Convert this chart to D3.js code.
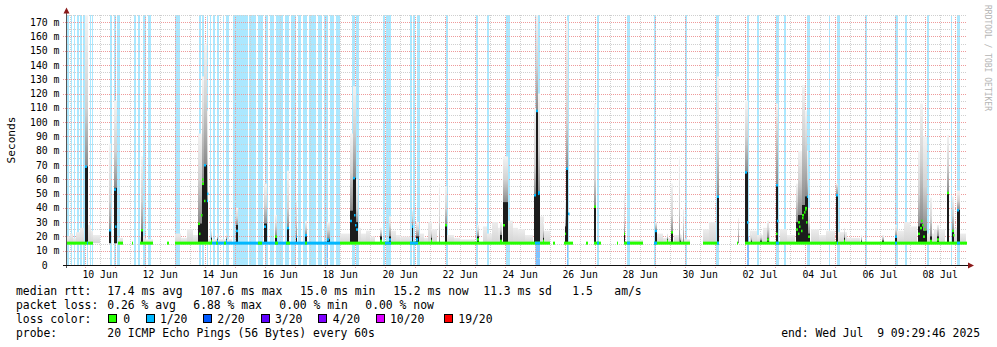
<!DOCTYPE html>
<html><head><meta charset="utf-8">
<script src="https://cdn.jsdelivr.net/npm/d3@7"></script>
<style>
html,body{margin:0;padding:0;background:#fff;}
svg{display:block;font-family:"DejaVu Sans Mono",monospace;}
</style></head><body>
<svg id="chart" width="997" height="347"></svg>
<script>
// ---------------- DATA ----------------
// Times are "June day numbers": 10.5 = 10 Jun 12:00 UTC, 32.0 = 02 Jul 00:00 UTC
const graphStart = Date.UTC(2025, 5, 9, 9, 29, 46);
const graphEnd   = Date.UTC(2025, 6, 9, 9, 29, 46);

const xTickDays   = [10, 12, 14, 16, 18, 20, 22, 24, 26, 28, 30, 32, 34, 36, 38];
const xTickLabels = ["10 Jun","12 Jun","14 Jun","16 Jun","18 Jun","20 Jun","22 Jun","24 Jun","26 Jun","28 Jun","30 Jun","02 Jul","04 Jul","06 Jul","08 Jul"];
const yTickValues = [0,10,20,30,40,50,60,70,80,90,100,110,120,130,140,150,160,170];
const yTickLabels = ["0","10 m","20 m","30 m","40 m","50 m","60 m","70 m","80 m","90 m","100 m","110 m","120 m","130 m","140 m","150 m","160 m","170 m"];

// loss background bars (1/20 loss): [from, to]
const lossBars = [
  [9.4,9.467],[9.517,9.567],[9.617,9.667],[9.733,9.783],[9.833,9.883],[9.933,9.983],
  [10.05,10.1],[10.15,10.2],[10.233,10.267],
  [10.817,10.883],[10.95,11.033],[11.067,11.15],
  [11.633,11.7],[11.75,11.833],[11.917,12.017],[12.083,12.2],
  [13.0,13.167],
  [13.8,13.857],[13.89,13.967],[14.057,14.1],[14.157,14.2],[14.277,14.343],[14.39,14.467],[14.583,14.643],[14.7,14.783],
  [14.933,15.417],[15.467,15.7],[15.75,15.933],[16.0,16.1],[16.15,16.3],[16.367,16.6],[16.667,16.8],
  [16.867,17.033],[17.1,17.2],[17.267,17.4],[17.467,17.7],[17.767,17.9],[17.967,18.1],[18.167,18.3],[18.367,18.5],
  [18.9,18.99],[19.043,19.123],
  [19.943,20.0],[20.033,20.2],[20.843,20.9],[20.923,21.0],[21.057,21.177],
  [22.033,22.1],[23.033,23.11],[23.41,23.457],[24.033,24.177],
  [25.0,25.157],[26.057,26.123],[27.057,27.133],[28.057,28.177],[28.977,29.033],
  [30.0,30.077],[31.023,31.143],[32.077,32.143],[32.41,32.457],[33.033,33.133],[33.3,33.357],
  [34.057,34.167],[34.81,34.843],[35.057,35.167],[36.0,36.057],[37.0,37.11],[37.333,37.39],
  [38.057,38.133],[38.867,38.91],[39.067,39.167]
];
// 2/20 loss patches (lower part): [from, to]
const loss2Bars = [[18.05,18.1],[25.03,25.157],[26.057,26.11],[32.077,32.12]];

// median rtt baseline segments: [from, to, lossLevel]
const medianSegments = [
  [9.4,10.277,0],[10.05,10.1,1],
  [11.11,11.277,0],[11.577,11.61,0],[11.833,12.277,0],[12.743,12.79,0],
  [13.0,14.233,0],[14.233,14.933,1],[14.367,14.433,0],[14.633,14.7,0],
  [14.933,18.5,1],[15.767,15.9,0],[16.333,16.433,0],[16.7,16.833,0],[17.333,17.4,0],
  [18.5,25.5,0],[20.0,20.2,1],[20.833,21.1,1],[25.0,25.167,1],
  [25.6,25.667,0],[25.967,26.267,0],[26.7,26.767,0],
  [26.967,27.2,0],[27.067,27.133,1],[27.733,27.767,0],
  [27.967,28.6,0],[28.057,28.167,1],
  [28.967,30.167,0],[28.977,29.057,1],
  [30.6,31.133,0],[31.057,31.143,1],[31.723,31.777,0],
  [32.0,39.396,0],[33.033,33.133,1],[35.057,35.1,1],[37.0,37.067,1],[39.067,39.167,1]
];

// light smoke near the baseline: [from, to, top ms]
const haze = [
  [9.4,9.5,20],[9.5,9.6,22],[9.6,9.7,19],[9.7,9.833,23],[9.833,9.967,26],[10.1,10.2,28],[10.2,10.267,24],[10.267,10.5,21],
  [11.1,11.267,19],[11.833,12.0,20],[12.0,12.267,18],
  [13.0,13.2,22],[13.2,13.4,19],[13.4,13.6,25],[13.6,13.767,21],[14.1,14.9,18],
  [18.5,18.833,22],[19.1,19.2,26],[19.2,19.367,22],[19.367,19.5,24],[19.5,19.667,20],
  [20.2,20.35,24],[20.35,20.5,21],[20.5,20.833,20],
  [21.167,21.3,22],[21.3,21.433,19],[21.433,21.55,30],[21.55,21.733,25],
  [22.067,22.3,21],[22.3,22.5,19],[22.5,23.0,18],
  [23.267,23.4,27],[23.4,23.567,22],[23.567,23.75,30],[23.75,23.9,26],
  [24.1,24.25,31],[24.25,24.433,26],[24.433,24.65,25],[24.65,24.933,21],
  [25.167,25.3,34],[25.3,25.5,24],
  [28.167,28.6,17.5],[29.033,29.25,22],[29.25,29.5,19],[29.633,29.9,21],[29.9,30.167,18],
  [30.6,30.8,25],[30.8,31.033,30],
  [32.167,32.4,24],[32.4,32.6,21],[32.6,32.833,26],
  [33.167,33.4,25],[33.4,33.667,21],
  [34.2,34.45,25],[34.45,34.7,21],[34.7,35.0,24],
  [35.1,35.4,23],[35.4,35.833,19],
  [37.067,37.3,24],[37.3,37.5,30],[37.5,37.733,27],
  [38.067,38.3,22],[38.3,38.667,25],
  [38.9,39.1,26],[39.1,39.367,22]
];

// smoke spikes: [time, width hours, median, dark top, mid top, light top, lossLevel]
const spikes = [
  [10.04,2,69,69,110,175,1],[10.84,1.5,24.5,24.5,45,85,1],[11.017,2,53,54,80,115,1],[11.893,1.5,24.5,24.5,45,76,0],
  [13.833,3.2,29,29,60,92,0],[13.933,1.6,57,57,100,132,0],[14.01,2.1,70,70,115,155,1],[14.083,1.3,45,45,75,108,1],
  [14.223,1,17,19,21,24,0],[14.4,1,17,18,20,22,1],[14.723,1,17,18,20,22,1],
  [15.057,1.6,24,28,33,40,1],[16.023,2.6,27,29,42,57,1],[16.36,1.3,20,20,27,35,0],[16.757,1.6,26,26,40,66,1],
  [17.05,1.3,20,20,30,45,1],[17.36,1.3,21,21,26,31,1],[18.11,2.5,18,18,24,30,1],
  [18.883,2.4,31,38,65,92,1],[18.983,2.4,61,61,95,125,1],[19.067,1.6,25,30,40,60,1],
  [19.86,1.3,17,20,23,26,0],[20.15,1.6,18,20,27,34,1],[20.917,1.3,27,27,33,38,1],[21.083,2,18,20,25,30,1],
  [21.55,1.3,17,19,22,25,0],[21.82,1,16,16,30,57,0],[22.027,1.3,28,28,40,55,0],[23.11,1.5,18,20,24,28,0],
  [23.86,1.3,17,21,25,30,0],[24.017,3.5,28,44,60,76,0],
  [25.007,1.6,49,49,70,110,1],[25.077,1.6,108,108,140,175,1],[25.14,1.4,51,51,80,120,1],[25.28,1.3,17,19,24,30,0],
  [26.0,1.0,22,27,35,45,0],[26.077,1.6,67.6,67.6,100,171,1],[27.01,1.6,41,41,60,113,0],[27.98,1.3,22,22,30,50,0],
  [29.017,1.6,24,24,28,30,1],[29.41,1.2,17,18,20,22,0],[29.567,1.6,23,23,35,57,0],[29.8,1.0,16,16,40,76,0],
  [29.85,1.2,16,17,19,22,0],[29.94,1.0,16,16,28,40,0],
  [31.1,2,48,48,80,132,1],[31.77,1,16,16,25,33,0],
  [32.057,2.6,65,65,90,115,1],[32.2,1,16,17,19,22,0],[32.53,1,16,17,19,22,0],[32.77,1.3,18,19,25,31,0],
  [33.07,1.8,56,56,94,113,1],
  [33.74,1.8,25,30,45,57,0],[33.833,2.7,30,35,60,80,0],[33.943,2.7,35,42,90,126,0],[34.027,1.4,40,48,85,108,0],
  [34.083,1.4,48,48,60,80,1],[34.14,1.4,20,22,30,40,0],
  [35.057,1.6,49,49,55,57,1],[35.31,1.3,17,19,22,26,0],[35.89,1,16,17,19,21,0],[36.6,1.3,16,17,19,21,0],
  [37.03,1.3,20,20,24,28,1],
  [37.81,1.6,22,27,50,80,0],[37.893,2.4,26,29,75,113,0],[38.0,2.7,20,24,55,90,0],
  [38.19,1.3,17,20,32,47,0],[38.433,2,18,20,25,28,0],[38.777,1.6,50.6,50.6,70,91,0],
  [38.927,1.8,24,24,35,48,0],[39.123,2.2,38.5,38.5,45,52,1]
];
// extra coloured median points inside spikes: [time, ms, lossLevel]
const extraDots = [
  [11.01,27,1],[13.81,22,0],[13.87,35,0],[13.9,60,0],[13.97,45,0],[14.05,50,1],
  [18.95,35,1],[19.0,28,1],[25.1,50,1],[26.1,36,1],[32.05,30,1],[33.07,31,1],[33.03,22,0],
  [33.77,22,0],[33.8,27,0],[33.85,24,0],[33.9,33,0],[33.95,37,0],[33.98,39,0],[34.03,30,0],
  [37.85,31,0],[37.9,28,0],[37.95,25,0],[38.93,21,0]
];

const lossColors = ["#26ff00","#00b8ff","#0059ff","#5e00ff","#7e00ff","#dd00ff","#ff0000"];
const lossLabels = ["0","1/20","2/20","3/20","4/20","10/20","19/20"];
const medianLegend = ["median rtt:","17.4 ms avg","107.6 ms max","15.0 ms min","15.2 ms now","11.3 ms sd","1.5","am/s"];
const lossLegend = ["packet loss:","0.26 % avg","6.88 % max","0.00 % min","0.00 % now"];
const probeLegend = ["probe:","20 ICMP Echo Pings (56 Bytes) every 60s"];
const endLabel = "end: Wed Jul  9 09:29:46 2025";
const baselineRtt = 15.3;

// ---------------- DRAW ----------------
const DAY = 86400000, JUN0 = Date.UTC(2025, 4, 31);
const T = d => new Date(JUN0 + d * DAY);
const x = d3.scaleUtc().domain([new Date(graphStart), new Date(graphEnd)]).range([67, 967]);
const y = d3.scaleLinear().domain([0, 175]).range([265, 15]);
const X = d => x(T(d));
const svg = d3.select("#chart");
svg.append("rect").attr("width", 997).attr("height", 347).attr("fill", "#fff");
const defs = svg.append("defs");

// loss background bars
const gBars = svg.append("g");
lossBars.forEach(([a, b]) => {
  const x0 = Math.round(X(a)), x1 = Math.max(x0 + 1, Math.round(X(b)));
  gBars.append("rect").attr("x", x0).attr("y", 15).attr("width", x1 - x0).attr("height", 250)
    .attr("fill", lossColors[1]).attr("fill-opacity", 0.33);
});
loss2Bars.forEach(([a, b]) => {
  const x0 = Math.round(X(a)), x1 = Math.max(x0 + 1, Math.round(X(b)));
  gBars.append("rect").attr("x", x0).attr("y", y(20)).attr("width", x1 - x0).attr("height", y(0) - y(20))
    .attr("fill", lossColors[2]).attr("fill-opacity", 0.25);
});

// grid
const gGrid = svg.append("g").attr("fill", "none").attr("stroke-width", 1).attr("stroke-dasharray", "1,1");
d3.utcHour.every(12).range(new Date(graphStart), new Date(graphEnd)).forEach(t => {
  const major = t.getUTCHours() === 0;
  const px = Math.round(x(t)) + 0.5;
  gGrid.append("line").attr("x1", px).attr("x2", px).attr("y1", 15).attr("y2", major ? 268 : 265)
    .attr("stroke", major ? "#ee9a9a" : "#cfcfcf");
});
d3.range(5, 176, 5).forEach(v => {
  const major = v % 10 === 0;
  const py = Math.round(y(v)) + 0.5;
  gGrid.append("line").attr("x1", major ? 63 : 67).attr("x2", 967).attr("y1", py).attr("y2", py)
    .attr("stroke", major ? "#ee9a9a" : "#cfcfcf");
});

// haze
const hg = defs.append("linearGradient").attr("id", "haze").attr("x1", 0).attr("x2", 0).attr("y1", 0).attr("y2", 1);
hg.append("stop").attr("offset", 0).attr("stop-color", "#ededed");
hg.append("stop").attr("offset", 1).attr("stop-color", "#d4d4d4");
const gSmoke = svg.append("g");
haze.forEach(([a, b, top]) => {
  const x0 = Math.round(X(a)), x1 = Math.max(x0 + 1, Math.round(X(b)));
  gSmoke.append("rect").attr("x", x0).attr("width", x1 - x0).attr("y", y(top)).attr("height", y(baselineRtt) - y(top))
    .attr("fill", "url(#haze)");
});

// spikes
spikes.forEach(([t, w, med, dark, mid, top, lvl], i) => {
  const xc = X(t), pw = Math.max(1, w * 1.25);
  const x0 = Math.round(xc - pw / 2), x1 = Math.max(x0 + 1, Math.round(xc + pw / 2));
  const yb = y(baselineRtt), yt = y(top);
  const span = yb - yt;
  const gr = defs.append("linearGradient").attr("id", "sg" + i).attr("gradientUnits", "userSpaceOnUse")
    .attr("x1", 0).attr("x2", 0).attr("y1", yt).attr("y2", yb);
  gr.append("stop").attr("offset", 0).attr("stop-color", "#f3f3f3");
  gr.append("stop").attr("offset", Math.max(0, (y(mid) - yt) / span)).attr("stop-color", "#d2d2d2");
  gr.append("stop").attr("offset", Math.max(0, (y(dark) - yt) / span)).attr("stop-color", "#8a8a8a");
  gr.append("stop").attr("offset", 1).attr("stop-color", "#555");
  gSmoke.append("rect").attr("x", x0).attr("width", x1 - x0).attr("y", yt).attr("height", span).attr("fill", "url(#sg" + i + ")");
  if (dark > baselineRtt + 1) {
    gSmoke.append("rect").attr("x", x0).attr("width", x1 - x0).attr("y", y(dark)).attr("height", yb - y(dark)).attr("fill", "#1c1c1c");
  }
});

// median line
const gMed = svg.append("g");
medianSegments.forEach(([a, b, lvl]) => {
  const x0 = Math.round(X(a)), x1 = Math.max(x0 + 1, Math.round(X(b)));
  gMed.append("rect").attr("x", x0).attr("width", x1 - x0).attr("y", y(baselineRtt) - 1.5).attr("height", 3)
    .attr("fill", lossColors[lvl]);
});
spikes.forEach(([t, w, med, dark, mid, top, lvl]) => {
  if (med <= baselineRtt + 1) return;
  const xc = X(t), pw = Math.max(1, w * 1.25);
  const x0 = Math.round(xc - pw / 2), x1 = Math.max(x0 + 1, Math.round(xc + pw / 2));
  gMed.append("rect").attr("x", x0).attr("width", Math.min(2, x1 - x0)).attr("y", y(med) - 1).attr("height", 2.5)
    .attr("fill", lossColors[lvl]);
});
extraDots.forEach(([t, v, lvl]) => {
  gMed.append("rect").attr("x", Math.round(X(t))).attr("width", 1.5).attr("y", y(v) - 1).attr("height", 2.5)
    .attr("fill", lossColors[lvl]);
});

// axes
const gAx = svg.append("g");
gAx.append("line").attr("x1", 66.5).attr("x2", 66.5).attr("y1", 268).attr("y2", 12).attr("stroke", "#555");
gAx.append("line").attr("x1", 63).attr("x2", 969).attr("y1", 265.5).attr("y2", 265.5).attr("stroke", "#111");
gAx.append("path").attr("d", "M63.5,13.5 L66.5,7.5 L69.5,13.5 Z").attr("fill", "#8b1a1a");
gAx.append("path").attr("d", "M968,262.5 L974,265.5 L968,268.5 Z").attr("fill", "#8b1a1a");

// axis labels
const gTxt = svg.append("g").attr("fill", "#000");
xTickDays.forEach((d, i) => {
  gTxt.append("text").attr("x", X(d + 0.5)).attr("y", 278).attr("text-anchor", "middle")
    .attr("font-size", "9.8px").text(xTickLabels[i]);
});
yTickValues.forEach((v, i) => {
  const lbl = yTickLabels[i].indexOf(" ") < 0 ? yTickLabels[i] + "  " : yTickLabels[i];
  gTxt.append("text").attr("x", 59.5).attr("y", y(v) + 3.5).attr("text-anchor", "end")
    .attr("font-size", "9.8px").style("white-space", "pre").text(lbl);
});
gTxt.append("text").attr("transform", "translate(15,140) rotate(-90)").attr("text-anchor", "middle")
  .attr("font-size", "11.2px").text("Seconds");
gTxt.append("text").attr("transform", "translate(984.5,5) rotate(90)").attr("font-size", "8px")
  .attr("fill", "#b4b4b4").text("RRDTOOL / TOBI OETIKER");

// legend
const LF = "11.4px";
const medX = [16, 107.3, 200, 300, 393.3, 483.3, 572.3, 614.3];
medianLegend.forEach((s, i) => gTxt.append("text").attr("x", medX[i]).attr("y", 294.5).attr("font-size", LF).style("white-space", "pre").text(s));
const lossX = [16, 107.3, 193.3, 279.3, 365.3];
lossLegend.forEach((s, i) => gTxt.append("text").attr("x", lossX[i]).attr("y", 308.8).attr("font-size", LF).style("white-space", "pre").text(s));
gTxt.append("text").attr("x", 16).attr("y", 323.1).attr("font-size", LF).text("loss color:");
const boxX = [108.5, 146.5, 203.5, 261.5, 318.5, 376.5, 444.5];
const lblX = [123.3, 160, 217.3, 275, 332.7, 390, 458.3];
lossLabels.forEach((s, i) => {
  gTxt.append("rect").attr("x", boxX[i]).attr("y", 314.5).attr("width", 8).attr("height", 8)
    .attr("fill", lossColors[i]).attr("stroke", "#000").attr("stroke-width", 1);
  gTxt.append("text").attr("x", lblX[i]).attr("y", 323.1).attr("font-size", LF).text(s);
});
gTxt.append("text").attr("x", 16).attr("y", 337.4).attr("font-size", LF).text(probeLegend[0]);
gTxt.append("text").attr("x", 107.3).attr("y", 337.4).attr("font-size", LF).text(probeLegend[1]);
gTxt.append("text").attr("x", 980).attr("y", 337.4).attr("text-anchor", "end").attr("font-size", LF).style("white-space", "pre").text(endLabel);
</script>
</body></html>
